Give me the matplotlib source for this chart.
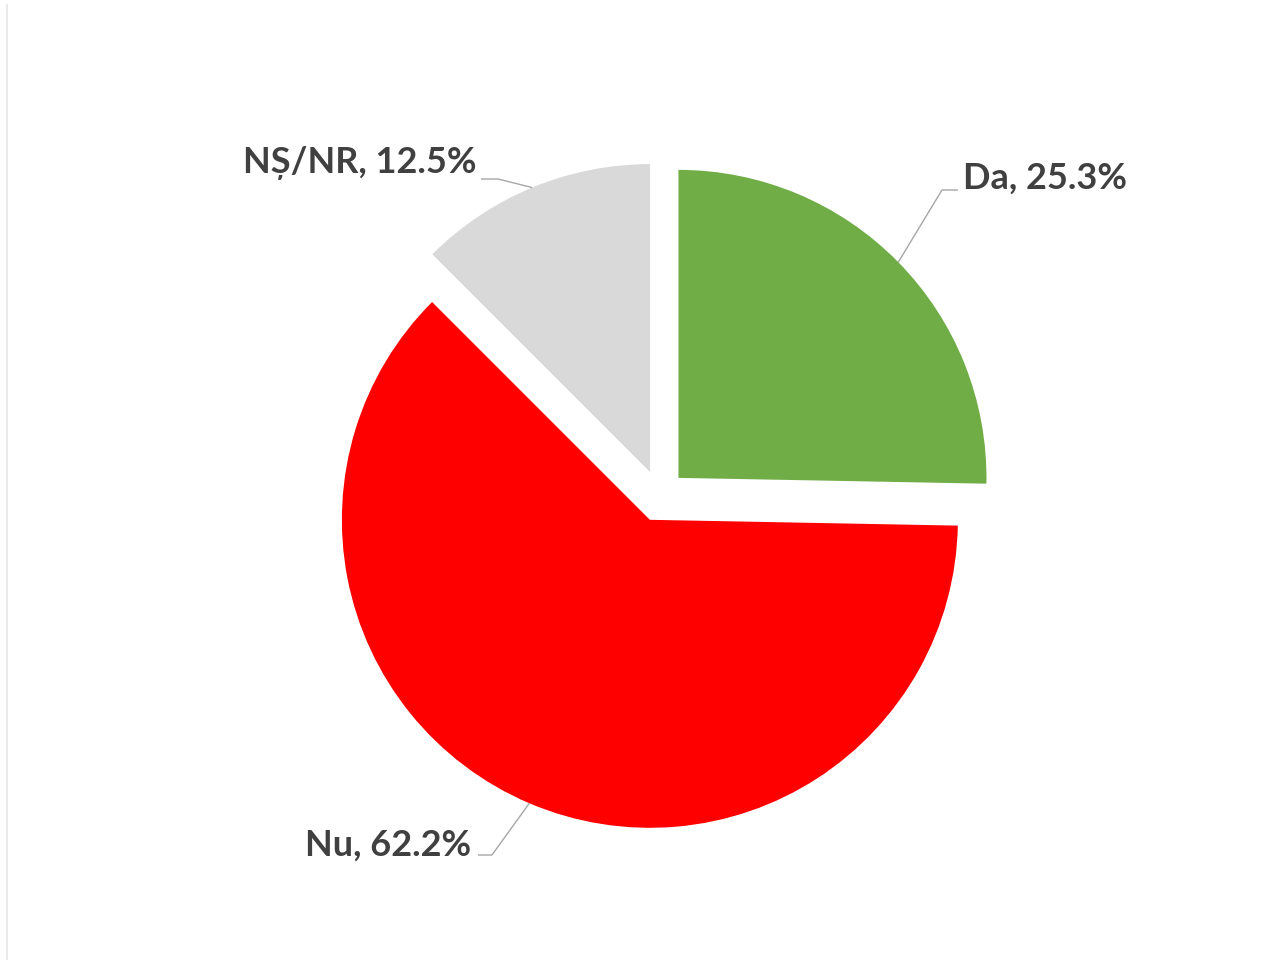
import numpy as np
import matplotlib.pyplot as plt
from matplotlib.lines import Line2D

labels = ['Da', 'Nu', 'NȘ/NR']
shares = [25.3, 62.2, 12.5]
colors = ['#70AD47', '#FF0000', '#D9D9D9']

# pixel layout helpers (figure is 1280x960, pie radius ~308 px)
CX, CY, R = 660, 496, 308


def px(x, y):
    return (x - CX) / R, (CY - y) / R


fig = plt.figure(figsize=(12.8, 9.6), dpi=100)
ax = fig.add_axes([0, 0, 1, 1])

wedges, _ = ax.pie(shares, colors=colors, startangle=90, counterclock=False,
                   explode=[0.084] * 3, radius=1.0, center=(0, 0),
                   wedgeprops=dict(linewidth=0))

ax.set_xlim(-CX / R, (1280 - CX) / R)
ax.set_ylim(-(960 - CY) / R, CY / R)
ax.set_aspect('equal')
ax.axis('off')

# label text position, anchor, and elbow/end of the leader line (pixels)
label_pos = [((963, 178), 'left', (942, 190), (958, 190)),
             ((471, 845), 'right', (492, 855), (478, 855)),
             ((476, 163), 'right', (498, 179), (481, 179))]

for w, lab, val, (tpos, ha, elbow, end) in zip(wedges, labels, shares, label_pos):
    mid = np.deg2rad((w.theta1 + w.theta2) / 2)
    cx, cy = w.center
    edge = (cx + w.r * np.cos(mid), cy + w.r * np.sin(mid))
    e = px(*elbow)
    n = px(*end)
    ax.plot([edge[0], e[0], n[0]], [edge[1], e[1], n[1]],
            color='#A6A6A6', lw=1.0, solid_capstyle='butt')
    ax.text(*px(*tpos), f'{lab}, {val}%', ha=ha, va='center',
            fontsize=26, fontweight='bold', color='#404040', family='Lato')

fig.add_artist(Line2D([7 / 1280, 7 / 1280], [0, 955 / 960],
                      color='#E6E6E6', lw=1.2))

fig.savefig('out.png', dpi=100, facecolor='white')
